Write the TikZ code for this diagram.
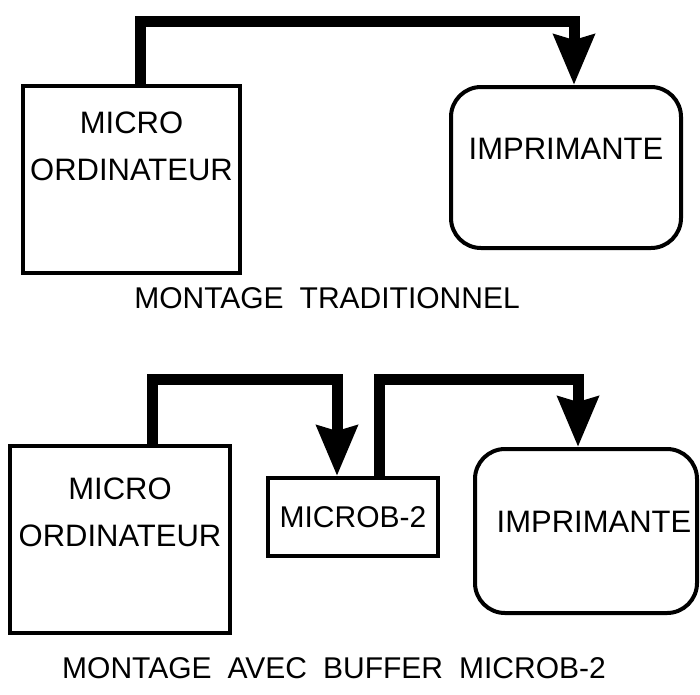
\documentclass[tikz,border=0pt]{standalone}
\usepackage{fontspec}
\setmainfont{Liberation Sans}
\usetikzlibrary{arrows.meta}

\newcommand\capfont{\fontsize{30}{36}\selectfont\spaceskip=16pt\relax}

\begin{document}
\begin{tikzpicture}[x=1pt, y=-1pt,
    box/.style={draw, line width=4pt, inner sep=0pt, font=\fontsize{30}{47}\selectfont},
    printer/.style={box, rounded corners=30pt},
    boxtext/.style={align=center, font=\fontsize{31}{47}\selectfont},
    bus/.style={line width=11pt, -{Stealth[length=50pt, width=40pt, inset=5pt]}},
    caption/.style={font=\capfont}]
    \useasboundingbox (0,0) rectangle (700,694);

    % montage traditionnel
    \node[box, minimum width=217pt, minimum height=187pt,
          label={[boxtext, yshift=33pt]center:MICRO\\ORDINATEUR}] (micro1) at (131.5,179.5) {};
    \node[printer, minimum width=230pt, minimum height=161pt,
          label={[boxtext, yshift=19pt]center:IMPRIMANTE}] (imp1) at (566,167.5) {};
    \node[caption] (cap1) at (327,298) {MONTAGE TRADITIONNEL};

    \coordinate (bus1) at (0,21);
    \coordinate (in1) at ([xshift=8pt]imp1.north);
    \draw[bus] ([xshift=9pt]micro1.north) |- (bus1 -| in1) -- (in1);

    % montage avec buffer
    \node[box, minimum width=220pt, minimum height=187pt,
          label={[boxtext, yshift=27pt]center:MICRO\\ORDINATEUR}] (micro2) at (120,539.5) {};
    \node[box, minimum width=170pt, minimum height=78pt] (microb) at (353,517) {MICROB-2};
    \node[printer, minimum width=222pt, minimum height=164pt,
          label={[boxtext, yshift=9pt, xshift=8pt]center:IMPRIMANTE}] (imp2) at (586,531) {};
    \node[caption] (cap2) at (334,668) {MONTAGE AVEC BUFFER MICROB-2};

    \coordinate (bus2) at (0,379);
    \coordinate (in2) at ([xshift=-16pt]microb.north);
    \coordinate (out2) at ([xshift=26pt]microb.north);
    \coordinate (in3) at ([xshift=-8pt]imp2.north);
    \draw[bus] ([xshift=32pt]micro2.north) |- (bus2 -| in2) -- (in2);
    \draw[bus] (out2) |- (bus2 -| in3) -- (in3);
\end{tikzpicture}
\end{document}
